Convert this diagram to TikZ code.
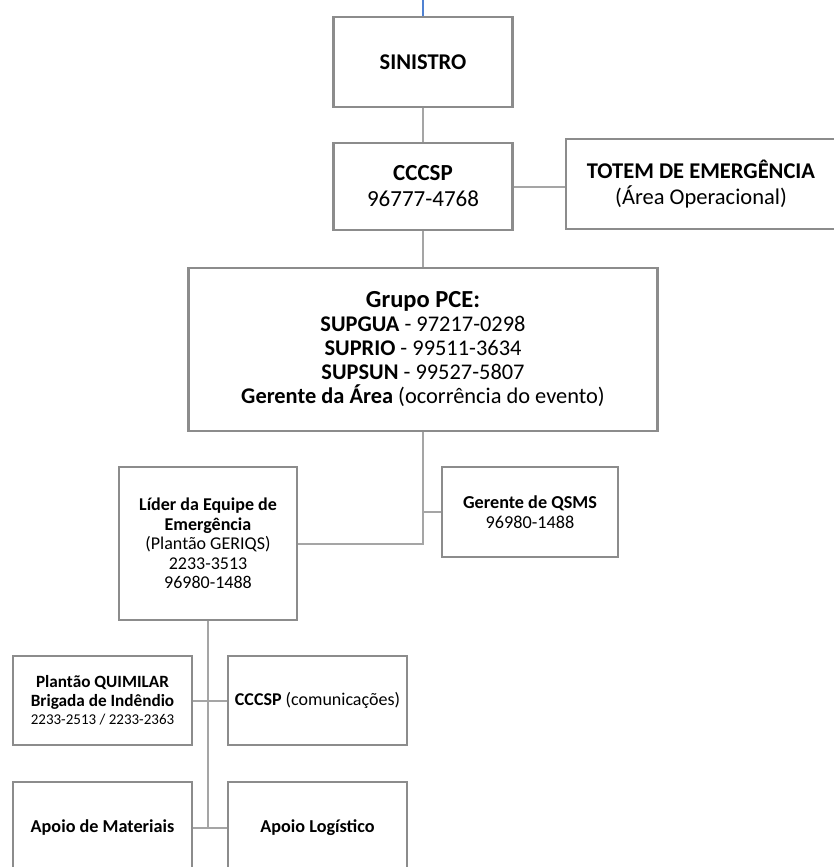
\documentclass[tikz,border=0pt]{standalone}
\usepackage{fontspec}
\setmainfont{Carlito}
\usetikzlibrary{positioning, calc}
\definecolor{boxgray}{RGB}{140,140,140}
\definecolor{linkgray}{RGB}{165,165,165}
\definecolor{topblue}{RGB}{80,130,210}
\newcommand{\fs}[2]{\fontsize{#1}{#2}\selectfont}
\tikzset{
  box/.style={draw=boxgray, line width=2.8pt, fill=white, align=center, inner sep=2pt},
  link/.style={draw=linkgray, line width=2pt},
}

\begin{document}
\begin{tikzpicture}[x=1pt, y=-1pt]
  \useasboundingbox (0,0) rectangle (834,867);

  % Top of the chain
  \coordinate (top) at (423,0);
  \node[box, minimum width=179pt, minimum height=90pt, font=\fs{22.5}{26}\bfseries] (sinistro) at (423,62) {SINISTRO};
  \node[box, minimum width=179pt, minimum height=87pt, font=\fs{23}{26}] (cccsp) at (423,186.5) {\textbf{CCCSP}\\96777-4768};
  \node[box, minimum width=270pt, minimum height=90pt, font=\fs{22.5}{26.5}] (totem) at (701,184) {\textbf{TOTEM DE EMERGÊNCIA}\\(Área Operacional)};

  % PCE group
  \node[box, minimum width=469pt, minimum height=163pt, font=\fs{22.4}{24}] (grupo) at (423,349.5) {
    {\fs{24.5}{25}\textbf{Grupo PCE:}}\\
    \textbf{SUPGUA} - 97217-0298\\
    \textbf{SUPRIO} - 99511-3634\\
    \textbf{SUPSUN} - 99527-5807\\
    \textbf{Gerente da Área} (ocorrência do evento)
  };

  % Leader and QSMS
  \node[box, minimum width=178pt, minimum height=153pt, font=\fs{18}{19.5}] (lider) at (208,543.5) {\textbf{Líder da Equipe de}\\\textbf{Emergência}\\(Plantão GERIQS)\\2233-3513\\96980-1488};
  \node[box, minimum width=176pt, minimum height=90pt, font=\fs{18.2}{20.5}] (qsms) at (530,512) {\textbf{Gerente de QSMS}\\96980-1488};

  % Support teams
  \node[box, minimum width=179pt, minimum height=89pt, font=\fs{17.2}{18.5}] (quimilar) at (102.5,700.5) {\textbf{Plantão QUIMILAR}\\\textbf{Brigada de Indêndio}\\{\fs{15}{18.5}2233-2513 / 2233-2363}};
  \node[box, minimum width=179pt, minimum height=89pt, font=\fs{18}{19}] (comun) at (317.5,700.5) {\textbf{CCCSP} (comunicações)};
  \node[box, minimum width=179pt, minimum height=92pt, font=\fs{18.2}{19}\bfseries] (materiais) at (102.5,828) {Apoio de Materiais};
  \node[box, minimum width=179pt, minimum height=92pt, font=\fs{18.2}{19}\bfseries] (logistico) at (317.5,828) {Apoio Logístico};

  % Connectors
  \draw[topblue, line width=1.6pt] (top) -- (sinistro.north);
  \draw[link] (sinistro.south) -- (cccsp.north);
  \draw[link] (cccsp.east) -- (totem.west |- cccsp.east);
  \draw[link] (cccsp.south) -- (grupo.north);
  \draw[link] (grupo.south) |- (lider.east);
  \draw[link] (grupo.south |- qsms.west) -- (qsms.west);
  \coordinate (spine) at (lider.south |- materiais.east);
  \draw[link] (lider.south) -- (spine);
  \draw[link] (quimilar.east) -- (comun.west);
  \draw[link] (materiais.east) -- (logistico.west);
\end{tikzpicture}
\end{document}
